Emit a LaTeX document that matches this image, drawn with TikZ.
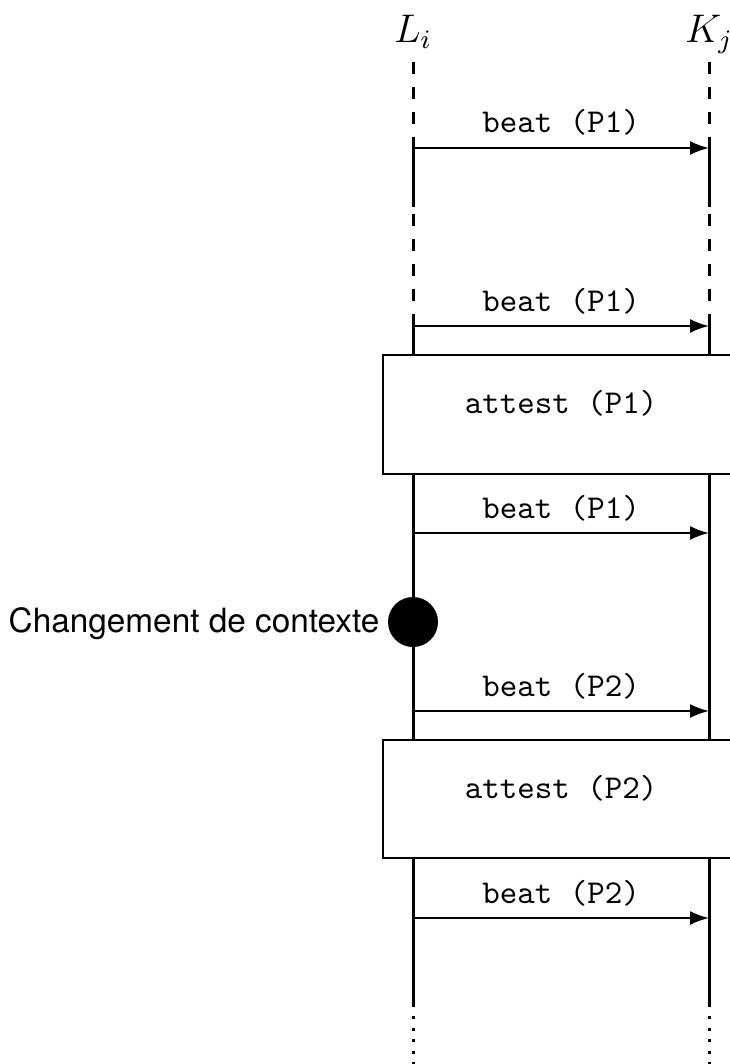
\documentclass[tikz,border=0pt]{standalone}
\usepackage{fontspec}
\newfontfamily\helv{TeX Gyre Heros}
\usetikzlibrary{arrows.meta}
\begin{document}
\begin{tikzpicture}[x=0.3pt,y=-0.3pt,
  life/.style={line width=0.9pt},
  lifedash/.style={line width=0.9pt, dash pattern=on 3.6pt off 3.9pt},
  lifedot/.style={line width=0.9pt, dash pattern=on 0.9pt off 2.55pt},
  msg/.style={line width=0.6pt,-{Latex[length=5.7pt,width=4.2pt]}},
  lbl/.style={font=\ttfamily, anchor=base, inner sep=0pt},
  actbox/.style={draw, line width=0.6pt, fill=white, minimum width=106.8pt, minimum height=35.5pt, inner sep=0pt},
  headlbl/.style={anchor=base, inner sep=0pt, font=\large},
  ctxdot/.style={circle, fill=black, minimum size=15pt, inner sep=0pt}]
\useasboundingbox (0,0) rectangle (729,1064);
% headers
\node[headlbl] (Lh) at (413,43) {$L_i$};
\node[headlbl] (Kh) at (709,43) {$K_j$};
% lifelines
\foreach \n/\x in {L/413,K/709}{
  \coordinate (\n0) at (\x,62);
  \coordinate (\n1) at (\x,137);
  \coordinate (\n2) at (\x,207);
  \coordinate (\n3) at (\x,214);
  \coordinate (\n4) at (\x,314);
  \coordinate (\n5) at (\x,1007);
  \coordinate (\n6) at (\x,1016);
  \coordinate (\n7) at (\x,1070);
  \draw[lifedash] (\n0) -- (\n1);
  \draw[life] (\n1) -- (\n2);
  \draw[lifedash] (\n3) -- (\n4);
  \draw[life] (\n4) -- (\n5);
  \draw[lifedot] (\n6) -- (\n7);
}
% messages
\foreach \i/\y/\t in {1/148/P1,2/326/P1,3/533/P1,4/711/P2,5/918/P2}{
  \coordinate (s\i) at (413,\y);
  \coordinate (e\i) at (709,\y);
  \draw[msg] (s\i) -- (e\i);
  \node[lbl] (m\i) at (561,\y-15) {beat (\t)};
}
% attest boxes
\node[actbox] (b1) at (561,414.5) {};
\node[lbl] (bt1) at (561,413) {attest (P1)};
\node[actbox] (b2) at (561,799) {};
\node[lbl] (bt2) at (561,798) {attest (P2)};
% context switch
\node[ctxdot] (cs) at (413,622) {};
\node[anchor=base east, inner sep=0pt, font=\helv] (cst) at (380,632) {Changement de contexte};
\end{tikzpicture}
\end{document}
